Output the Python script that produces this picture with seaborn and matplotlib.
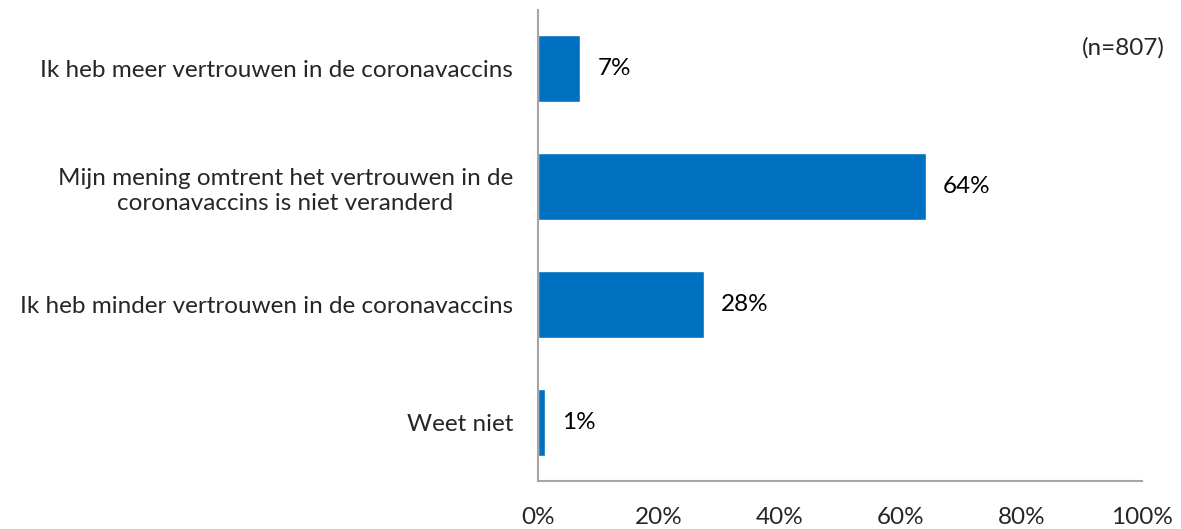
import matplotlib
matplotlib.use('Agg')
import matplotlib.pyplot as plt
import seaborn as sns
import pandas as pd

# data

categories = [
    'Ik heb meer vertrouwen in de coronavaccins',
    'Mijn mening omtrent het vertrouwen in de\ncoronavaccins is niet veranderd',
    'Ik heb minder vertrouwen in de coronavaccins',
    'Weet niet',
]
values = [7.0, 64.2, 27.5, 1.2]
value_labels = ['7%', '64%', '28%', '1%']
tick_values = [0, 20, 40, 60, 80, 100]
tick_labels = ['0%', '20%', '40%', '60%', '80%', '100%']
sample_note = '(n=807)'

df = pd.DataFrame({'category': categories, 'value': values})

sns.set_style('white')
plt.rcParams['font.family'] = ['Lato', 'DejaVu Sans']

fig = plt.figure(figsize=(11.81, 5.29), dpi=100)
ax = fig.add_axes([0.4556, 0.0907, 0.5114, 0.8904])

sns.barplot(data=df, x='value', y='category', ax=ax, color='#0070C0',
            saturation=1, width=0.57, orient='h')

# labels next to bars
for i, (v, lab) in enumerate(zip(values, value_labels)):
    ax.text(v + 2.8, i, lab, va='center', ha='left', fontsize=17.5, color='#000000')

ax.set_xlim(0, 100)
ax.set_ylim(3.5, -0.5)
ax.set_xticks(tick_values)
ax.set_xticklabels(tick_labels, fontsize=17.5)
ax.set_xlabel('')
ax.set_ylabel('')

for lbl in ax.get_yticklabels():
    lbl.set_fontsize(17.5)
    lbl.set_multialignment('center')
    lbl.set_linespacing(1.25)

ax.tick_params(axis='x', direction='out', length=9, width=1.2, color='#A6A6A6', pad=10)
ax.tick_params(axis='y', length=0, pad=18)

for s in ['top', 'right']:
    ax.spines[s].set_visible(False)
for s in ['left', 'bottom']:
    ax.spines[s].set_color('#A6A6A6')
    ax.spines[s].set_linewidth(1.5)

fig.text(0.986, 0.91, sample_note, ha='right', va='center', fontsize=17.5)

plt.savefig('out.png', dpi=100)
